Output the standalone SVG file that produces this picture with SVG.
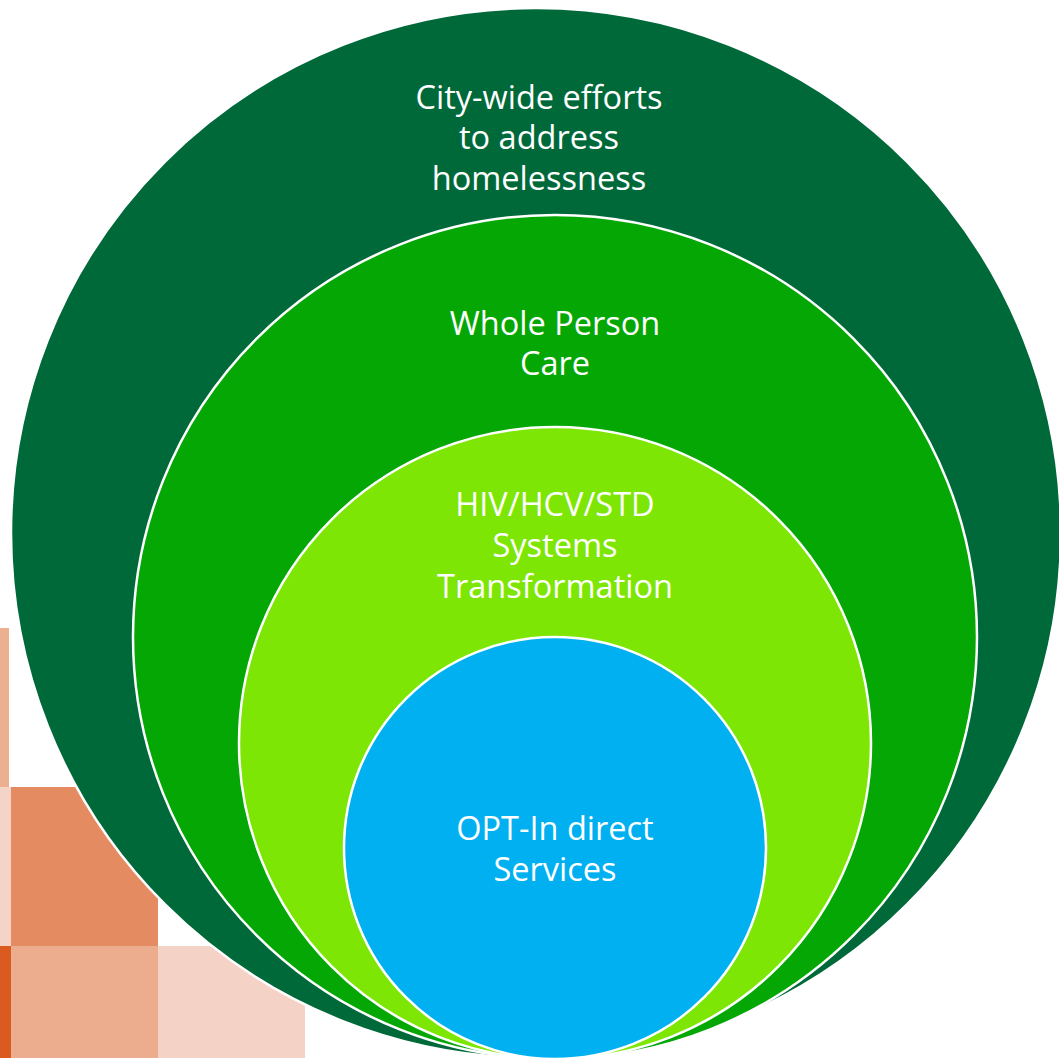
<svg xmlns="http://www.w3.org/2000/svg" width="1059" height="1058" viewBox="0 0 1059 1058">
<style>
.ring{stroke:#FFFFFF;stroke-width:2.5}
.lbl{font-family:"Open Sans","Liberation Sans",sans-serif;font-size:32.5px;fill:#FFFFFF;text-anchor:middle}
</style>
<rect x="0" y="0" width="1059" height="1058" fill="#FFFFFF"/>
<g id="deco">
<rect x="0" y="628" width="9" height="159" fill="#ECAF90"/>
<rect x="0" y="787" width="11" height="159" fill="#F4D4C7"/>
<rect x="11" y="787" width="147" height="159" fill="#E48B62"/>
<rect x="0" y="946" width="11" height="112" fill="#DA5A1F"/>
<rect x="11" y="946" width="147" height="112" fill="#EBAD8E"/>
<rect x="158" y="946" width="147" height="112" fill="#F4D3C6"/>
</g>
<g id="node-city">
<circle class="ring" cx="536" cy="533" r="525" fill="#00693A"/>
<text class="lbl" x="539" y="108.5">City-wide efforts</text>
<text class="lbl" x="539" y="149">to address</text>
<text class="lbl" x="539" y="189.5">homelessness</text>
</g>
<g id="node-wpc">
<circle class="ring" cx="555" cy="637" r="422" fill="#05A705"/>
<text class="lbl" x="555" y="334.5">Whole Person</text>
<text class="lbl" x="555" y="375">Care</text>
</g>
<g id="node-hiv">
<circle class="ring" cx="555" cy="743" r="316" fill="#7DE605"/>
<text class="lbl" x="555" y="515.5">HIV/HCV/STD</text>
<text class="lbl" x="555" y="556.5">Systems</text>
<text class="lbl" x="555" y="598">Transformation</text>
</g>
<g id="node-optin">
<circle class="ring" cx="555" cy="848" r="211" fill="#00B0F0"/>
<text class="lbl" x="555" y="839.5">OPT-In direct</text>
<text class="lbl" x="555" y="881">Services</text>
</g>
<g id="connectors"></g>
</svg>
